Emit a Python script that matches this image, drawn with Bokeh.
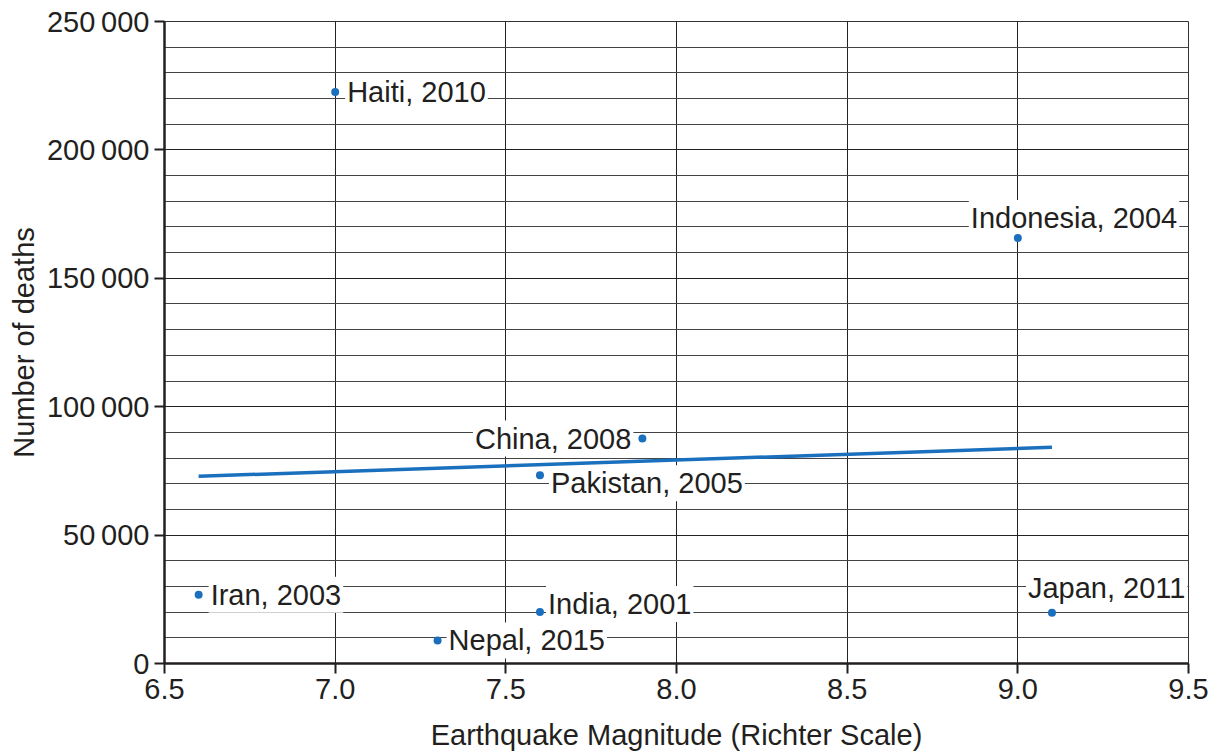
from bokeh.plotting import figure
from bokeh.models import ColumnDataSource, FixedTicker, SingleIntervalTicker
from bokeh.core.properties import value
from bokeh.embed import file_html
from bokeh.resources import INLINE

# ---- data ----
countries = ["Haiti, 2010", "Indonesia, 2004", "China, 2008", "Pakistan, 2005",
             "Iran, 2003", "India, 2001", "Nepal, 2015", "Japan, 2011"]
magnitude = [7.0, 9.0, 7.9, 7.6, 6.6, 7.6, 7.3, 9.1]
deaths = [222570, 165708, 87587, 73338, 26796, 20085, 8964, 19759]

trend_x = [6.6, 9.1]
trend_y = [72900, 84200]

x_ticks = [6.5, 7.0, 7.5, 8.0, 8.5, 9.0, 9.5]
x_tick_labels = ["6.5", "7.0", "7.5", "8.0", "8.5", "9.0", "9.5"]
y_ticks = [0, 50000, 100000, 150000, 200000, 250000]
y_tick_labels = ["0", "50\u2009000", "100\u2009000", "150\u2009000", "200\u2009000", "250\u2009000"]

# ---- label placement (styles) ----
label_dx = [10, -49, -9, 9, 10, 6, 9, -26]
label_dy = [0, -20, 0, 8, 0, -8, 0, -25]
label_align = ["left", "left", "right", "left", "left", "left", "left", "left"]

FONT = "Liberation Sans"
FS = "29px"
BLUE = "#1b70be"
INK = "#231f20"

p = figure(width=1217, height=754, x_range=(6.5, 9.5), y_range=(0, 250000),
           output_backend="svg", toolbar_location=None,
           min_border_left=164, min_border_right=29, min_border_top=21, min_border_bottom=91)

p.background_fill_color = "white"
p.border_fill_color = "white"
p.outline_line_color = "#333333"
p.outline_line_width = 1

# axes
p.xaxis.ticker = FixedTicker(ticks=x_ticks)
p.xaxis.major_label_overrides = {t: l for t, l in zip(x_ticks, x_tick_labels)}
p.yaxis.ticker = SingleIntervalTicker(interval=50000, num_minor_ticks=5)
p.yaxis.major_label_overrides = {t: l for t, l in zip(y_ticks, y_tick_labels)}

for ax in (p.xaxis[0], p.yaxis[0]):
    ax.axis_line_color = INK
    ax.axis_line_width = 2.5
    ax.major_tick_line_color = INK
    ax.major_tick_line_width = 2
    ax.major_tick_out = 10
    ax.major_tick_in = 0
    ax.minor_tick_out = 0
    ax.minor_tick_in = 0
    ax.major_label_text_font = FONT
    ax.major_label_text_font_size = FS
    ax.major_label_text_color = INK
    ax.axis_label_text_font = FONT
    ax.axis_label_text_font_size = FS
    ax.axis_label_text_font_style = "normal"
    ax.axis_label_text_color = INK

p.xaxis.axis_label = "Earthquake Magnitude (Richter Scale)"
p.yaxis.axis_label = "Number of deaths"
p.xaxis.major_label_standoff = 5
p.xaxis.axis_label_standoff = 17
p.yaxis.major_label_standoff = 5
p.yaxis.axis_label_standoff = 4

# grids
p.xgrid.grid_line_color = "#222222"
p.xgrid.grid_line_width = 1
p.ygrid.grid_line_color = "#222222"
p.ygrid.grid_line_width = 1
p.ygrid.minor_grid_line_color = "#444444"
p.ygrid.minor_grid_line_width = 1

src = ColumnDataSource(dict(x=magnitude, y=deaths, name=countries,
                            dx=label_dx, dy=label_dy, align=label_align))

p.text(x="x", y="y", text="name", source=src, x_offset="dx", y_offset="dy",
       text_align="align", text_baseline="middle",
       text_font=value(FONT), text_font_size=FS, text_color=INK,
       background_fill_color="white", padding=2)

p.line(trend_x, trend_y, line_color=BLUE, line_width=3.5)

p.scatter(x="x", y="y", source=src, size=8, fill_color=BLUE, line_color=None)

open("out.html", "w").write(file_html(p, INLINE))
